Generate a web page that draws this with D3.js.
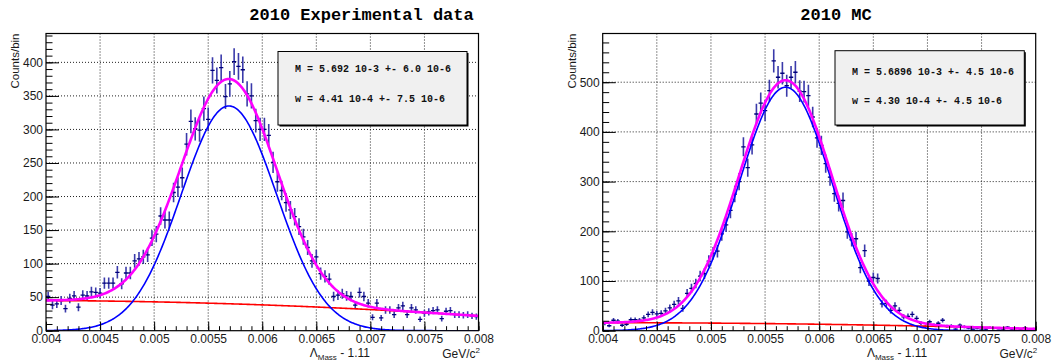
<!DOCTYPE html>
<html>
<head>
<meta charset="utf-8">
<script src="https://cdn.jsdelivr.net/npm/d3@7/dist/d3.min.js"></script>
<style>
  body { margin: 0; background: #fff; }
  svg { display: block; }
</style>
</head>
<body>
<svg id="canvas" width="1060" height="364"></svg>
<script>
// histogram binning: 100 bins from 0.004 to 0.008
const binLow = 0.004;
const binWidth = 0.00004;

const expCounts = [
  51, 38, 40, 45, 33, 48, 52, 35, 53, 52,
  58, 57, 56, 71, 71, 71, 87, 70, 86, 86,
  104, 107, 110, 113, 138, 144, 171, 165, 165, 206,
  214, 228, 278, 312, 301, 299, 331, 315, 388, 373,
  392, 349, 368, 401, 394, 389, 353, 350, 313, 300,
  300, 291, 251, 222, 209, 191, 180, 170, 155, 140,
  124, 104, 110, 85, 81, 77, 51, 53, 55, 52,
  51, 38, 57, 51, 41, 20, 41, 19, 31, 31,
  24, 34, 37, 24, 34, 31, 17, 26, 28, 30,
  31, 18, 29, 30, 24, 24, 23, 24, 22, 21
];

const mcCounts = [
  15, 10, 21, 19, 11, 13, 22, 22, 21, 26,
  33, 37, 34, 35, 40, 46, 53, 60, 45, 75,
  85, 95, 110, 115, 140, 156, 160, 195, 213, 242,
  275, 300, 370, 328, 374, 436, 458, 443, 483, 543,
  510, 518, 493, 510, 520, 482, 481, 473, 430, 388,
  373, 336, 309, 276, 256, 262, 199, 183, 185, 127,
  161, 100, 107, 105, 54, 55, 41, 50, 41, 28,
  29, 33, 25, 15, 8, 18, 11, 15, 21, 9,
  10, 3, 11, 8, 5, 3, 5, 1, 3, 6,
  5, 1, 3, 7, 3, 5, 3, 6, 3, 4
];

const xTicks = [0.004, 0.0045, 0.005, 0.0055, 0.006, 0.0065, 0.007, 0.0075, 0.008];

const expTitle = '2010 Experimental data';
const mcTitle = '2010 MC';
const expStats = ['M = 5.692 10-3 +- 6.0 10-6', 'w = 4.41 10-4 +- 7.5 10-6'];
const mcStats = ['M = 5.6896 10-3 +- 4.5 10-6', 'w = 4.30 10-4 +- 4.5 10-6'];

// fit results: gaussian [amplitude, mean, sigma], pol2 background in t = (x - 0.004) / 0.001
const expGaus = [335, 5.692e-3, 4.41e-4];
const expBkg = [45, -0.75, -1.25];
const mcGaus = [490, 5.6896e-3, 4.30e-4];
const mcBkg = [16, 0.1, -0.8];

const canvas = d3.select('#canvas');

const panels = [
  {
    id: 'exp', counts: expCounts, gaus: expGaus, bkg: expBkg,
    title: expTitle, stats: expStats,
    left: 46, right: 478.5, top: 33.5, bottom: 330.7,
    yMax: 443, yMajor: d3.range(0, 401, 50), yMinor: d3.range(0, 441, 10),
    titleX: 361.5, labelX: 19,
    box: { x: 278, y: 51.5, w: 189, h: 73.5, l1: 71.8, l2: 101.8 }
  },
  {
    id: 'mc', counts: mcCounts, gaus: mcGaus, bkg: mcBkg,
    title: mcTitle, stats: mcStats,
    left: 602.7, right: 1035.7, top: 33.5, bottom: 330.7,
    yMax: 598, yMajor: d3.range(0, 501, 100), yMinor: d3.range(0, 581, 20),
    titleX: 836, labelX: 576,
    box: { x: 835, y: 50.7, w: 189.3, h: 74.3, l1: 74.8, l2: 103.6 }
  }
];

const fmtTick = (v) => (+v.toFixed(4)).toString();

let drawPanel = (p) => {
  const g = canvas.append('g');

  const xScale = d3.scaleLinear().domain([0.004, 0.008]).range([p.left, p.right]);
  const yScale = d3.scaleLinear().domain([0, p.yMax]).range([p.bottom, p.top]);

  g.append('clipPath')
    .attr('id', 'clip-' + p.id)
    .append('rect')
    .attr('x', p.left)
    .attr('y', p.top)
    .attr('width', p.right - p.left)
    .attr('height', p.bottom - p.top);

  // dotted grid
  g.selectAll('.gridx')
    .data(xTicks.slice(1, -1))
    .enter()
    .append('line')
    .attr('x1', (d) => xScale(d))
    .attr('x2', (d) => xScale(d))
    .attr('y1', p.top)
    .attr('y2', p.bottom)
    .attr('stroke', '#222')
    .attr('stroke-dasharray', '1,2');

  g.selectAll('.gridy')
    .data(p.yMajor.slice(1))
    .enter()
    .append('line')
    .attr('x1', p.left)
    .attr('x2', p.right)
    .attr('y1', (d) => yScale(d))
    .attr('y2', (d) => yScale(d))
    .attr('stroke', '#222')
    .attr('stroke-dasharray', '1,2');

  const plot = g.append('g').attr('clip-path', 'url(#clip-' + p.id + ')');

  // data points with sqrt(N) errors
  const pts = plot.selectAll('.pt')
    .data(p.counts)
    .enter()
    .append('g');

  pts.append('line')
    .attr('x1', (d, i) => xScale(binLow + (i + 0.5) * binWidth))
    .attr('x2', (d, i) => xScale(binLow + (i + 0.5) * binWidth))
    .attr('y1', (d) => yScale(d - Math.sqrt(d)))
    .attr('y2', (d) => yScale(d + Math.sqrt(d)))
    .attr('stroke', '#3a3aaa')
    .attr('stroke-width', 1.6);

  pts.append('line')
    .attr('x1', (d, i) => xScale(binLow + i * binWidth))
    .attr('x2', (d, i) => xScale(binLow + (i + 1) * binWidth))
    .attr('y1', (d) => yScale(d))
    .attr('y2', (d) => yScale(d))
    .attr('stroke', '#00007a')
    .attr('stroke-width', 1.3);

  // fit curves
  const gaus = (x) => p.gaus[0] * Math.exp(-0.5 * Math.pow((x - p.gaus[1]) / p.gaus[2], 2));
  const bkg = (x) => {
    let t = (x - 0.004) / 0.001;
    return p.bkg[0] + p.bkg[1] * t + p.bkg[2] * t * t;
  };
  const xs = d3.range(0, 401).map((k) => 0.004 + k * 0.00001);

  const line = (f) => d3.line()
    .x((x) => xScale(x))
    .y((x) => yScale(f(x)))(xs);

  plot.append('path')
    .attr('d', line(bkg))
    .attr('fill', 'none')
    .attr('stroke', '#ff0000')
    .attr('stroke-width', 1.6);

  plot.append('path')
    .attr('d', line(gaus))
    .attr('fill', 'none')
    .attr('stroke', '#0000ff')
    .attr('stroke-width', 1.6);

  plot.append('path')
    .attr('d', line((x) => gaus(x) + bkg(x)))
    .attr('fill', 'none')
    .attr('stroke', '#ff00ff')
    .attr('stroke-width', 2.6);

  // axes, ticks pointing into the frame
  g.append('g')
    .attr('transform', 'translate(' + p.left + ',0)')
    .call(d3.axisLeft(yScale).tickValues(p.yMajor).tickSizeInner(-13).tickSizeOuter(0).tickPadding(3));
  g.append('g')
    .attr('transform', 'translate(' + p.left + ',0)')
    .call(d3.axisLeft(yScale).tickValues(p.yMinor).tickSizeInner(-6.5).tickSizeOuter(0).tickFormat(''));

  const xAxis = g.append('g')
    .attr('transform', 'translate(0,' + p.bottom + ')')
    .call(d3.axisBottom(xScale).tickValues(xTicks).tickSizeInner(-9).tickSizeOuter(0).tickPadding(3).tickFormat(fmtTick));
  g.append('g')
    .attr('transform', 'translate(0,' + p.bottom + ')')
    .call(d3.axisBottom(xScale).tickValues(d3.range(0, 41).map((k) => 0.004 + k * 0.0001)).tickSizeInner(-4.5).tickSizeOuter(0).tickFormat(''));

  g.selectAll('.domain').remove();
  g.selectAll('.tick line').attr('stroke', '#000');
  g.selectAll('.tick text')
    .attr('font-family', 'Liberation Sans, Arial, sans-serif')
    .attr('font-size', 12)
    .attr('fill', '#1a1a1a');
  xAxis.selectAll('.tick text').attr('dy', '0.8em');

  // frame
  g.append('rect')
    .attr('x', p.left)
    .attr('y', p.top)
    .attr('width', p.right - p.left)
    .attr('height', p.bottom - p.top)
    .attr('fill', 'none')
    .attr('stroke', '#000')
    .attr('stroke-width', 1.2);

  // titles
  g.append('text')
    .attr('x', p.titleX)
    .attr('y', 19.5)
    .attr('text-anchor', 'middle')
    .attr('font-family', 'Liberation Mono, Courier New, monospace')
    .attr('font-weight', 'bold')
    .attr('font-size', 17)
    .text(p.title);

  g.append('text')
    .attr('transform', 'translate(' + p.labelX + ',' + p.top + ') rotate(-90)')
    .attr('text-anchor', 'end')
    .attr('font-family', 'Liberation Sans, Arial, sans-serif')
    .attr('font-size', 11.5)
    .attr('fill', '#1a1a1a')
    .text('Counts/bin');

  const xt = g.append('text')
    .attr('x', p.right - 108.5)
    .attr('y', 357)
    .attr('text-anchor', 'end')
    .attr('font-family', 'Liberation Sans, Arial, sans-serif')
    .attr('font-size', 12)
    .attr('fill', '#1a1a1a');
  xt.append('tspan').text('\u039B');
  xt.append('tspan').attr('font-size', 8).attr('dy', 3).text('Mass');
  xt.append('tspan').attr('dy', -3).text(' - 1.11');

  const unit = g.append('text')
    .attr('x', p.right + 1.5)
    .attr('y', 358)
    .attr('text-anchor', 'end')
    .attr('font-family', 'Liberation Sans, Arial, sans-serif')
    .attr('font-size', 12)
    .attr('fill', '#1a1a1a');
  unit.append('tspan').text('GeV/c');
  unit.append('tspan').attr('font-size', 8).attr('dy', -5).text('2');

  // stat box
  const b = p.box;
  g.append('rect')
    .attr('x', b.x + 1.5)
    .attr('y', b.y + 1.5)
    .attr('width', b.w)
    .attr('height', b.h)
    .attr('fill', '#000');
  g.append('rect')
    .attr('x', b.x)
    .attr('y', b.y)
    .attr('width', b.w)
    .attr('height', b.h)
    .attr('fill', '#f0f0f0')
    .attr('stroke', '#000')
    .attr('stroke-width', 1);

  g.selectAll('.stat')
    .data(p.stats)
    .enter()
    .append('text')
    .attr('x', b.x + 17)
    .attr('y', (d, i) => (i === 0 ? b.l1 : b.l2))
    .attr('font-family', 'Liberation Mono, Courier New, monospace')
    .attr('font-weight', 'bold')
    .attr('font-size', 10)
    .attr('fill', '#111')
    .text((d) => d);
};

panels.forEach((p) => drawPanel(p));
</script>
</body>
</html>
